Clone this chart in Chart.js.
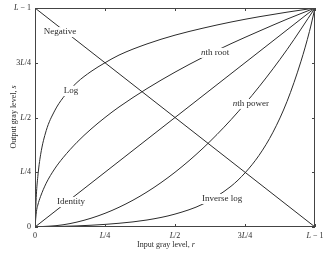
<!DOCTYPE html>
<html>
<head>
<title>Intensity transformation functions</title>
<script src="https://cdn.jsdelivr.net/npm/chart.js"></script>
<style>
  body { margin: 0; background: #fff; }
</style>
</head>
<body>

<canvas id="myChart" width="329" height="254"></canvas>

<script>
  // Input levels r (as a fraction of L - 1) and the output levels
  const rValues      = [0, 0.005, 0.01, 0.02, 0.04, 0.07, 0.1, 0.15, 0.2, 0.25, 0.3, 0.4, 0.5, 0.6, 0.7, 0.8, 0.9, 1];
  const logValues    = [0, 0.15, 0.23, 0.33, 0.44, 0.53, 0.59, 0.66, 0.71, 0.75, 0.785, 0.836, 0.876, 0.908, 0.936, 0.96, 0.981, 1];
  const rootValues   = [0, 0.07, 0.1, 0.14, 0.2, 0.265, 0.316, 0.387, 0.447, 0.5, 0.548, 0.632, 0.707, 0.775, 0.837, 0.894, 0.949, 1];

  const powerR       = [0, 0.1, 0.2, 0.3, 0.4, 0.5, 0.6, 0.7, 0.8, 0.9, 1];
  const powerValues  = [0, 0.01, 0.04, 0.09, 0.16, 0.25, 0.36, 0.49, 0.64, 0.81, 1];

  const invLogR      = [0, 0.1, 0.2, 0.3, 0.4, 0.5, 0.6, 0.7, 0.75, 0.8, 0.85, 0.9, 0.95, 0.98, 1];
  const invLogValues = [0, 0.003, 0.008, 0.017, 0.032, 0.059, 0.105, 0.186, 0.247, 0.327, 0.433, 0.573, 0.757, 0.892, 1];

  const lineR        = [0, 1];
  const identityVals = [0, 1];
  const negativeVals = [1, 0];

  const tickValues = [0, 0.25, 0.5, 0.75, 1];
  const tickLabels = ['0', '_L_/4', '_L_/2', '3_L_/4', '_L_ \u2212 1'];

  // curve names, placed on the curves (r, s)
  const curveLabels = [
    { text: 'Negative', r: 0.089, s: 0.89 },
    { text: 'Log', r: 0.129, s: 0.621 },
    { text: '_n_th root', r: 0.643, s: 0.795 },
    { text: '_n_th power', r: 0.771, s: 0.562 },
    { text: 'Identity', r: 0.129, s: 0.114 },
    { text: 'Inverse log', r: 0.668, s: 0.128 }
  ];

  const ink = '#2b2b2b';
  const fontFamily = '"Liberation Serif", "DejaVu Serif", serif';

  function pairs(xs, ys) {
    return xs.map((x, i) => ({ x: x, y: ys[i] }));
  }

  // text with _italic_ parts
  function richWidth(ctx, text, size) {
    let w = 0;
    text.split('_').forEach((part, i) => {
      ctx.font = (i % 2 ? 'italic ' : '') + size + 'px ' + fontFamily;
      w += ctx.measureText(part).width;
    });
    return w;
  }
  function drawRich(ctx, text, x, y, size, align) {
    const w = richWidth(ctx, text, size);
    let cx = align === 'right' ? x - w : align === 'center' ? x - w / 2 : x;
    ctx.textBaseline = 'middle';
    ctx.textAlign = 'left';
    text.split('_').forEach((part, i) => {
      ctx.font = (i % 2 ? 'italic ' : '') + size + 'px ' + fontFamily;
      ctx.fillText(part, cx, y);
      cx += ctx.measureText(part).width;
    });
  }

  const decorations = {
    id: 'decorations',
    afterDatasetsDraw(chart) {
      const { ctx, chartArea: a, scales: { x, y } } = chart;
      ctx.save();
      ctx.fillStyle = ink;
      curveLabels.forEach(l => {
        const px = x.getPixelForValue(l.r);
        const py = y.getPixelForValue(l.s);
        const w = richWidth(ctx, l.text, 9);
        ctx.fillStyle = '#fff';
        ctx.fillRect(px - w / 2 - 1, py - 5, w + 2, 10);
        ctx.fillStyle = ink;
        drawRich(ctx, l.text, px, py, 9, 'center');
      });

      // frame with inward ticks
      ctx.strokeStyle = '#444';
      ctx.lineWidth = 1;
      ctx.strokeRect(a.left + 0.5, a.top + 0.5, a.right - a.left - 1, a.bottom - a.top - 1);
      ctx.beginPath();
      tickValues.forEach(v => {
        const px = Math.round(x.getPixelForValue(v)) + 0.5;
        const py = Math.round(y.getPixelForValue(v)) + 0.5;
        ctx.moveTo(px, a.bottom); ctx.lineTo(px, a.bottom - 3);
        ctx.moveTo(px, a.top); ctx.lineTo(px, a.top + 3);
        ctx.moveTo(a.left, py); ctx.lineTo(a.left + 3, py);
        ctx.moveTo(a.right, py); ctx.lineTo(a.right - 3, py);
      });
      ctx.stroke();

      // tick labels
      ctx.fillStyle = ink;
      tickValues.forEach((v, i) => {
        drawRich(ctx, tickLabels[i], x.getPixelForValue(v), a.bottom + 9, 8, 'center');
        drawRich(ctx, tickLabels[i], a.left - 4, y.getPixelForValue(v), 8, 'right');
      });

      // axis titles
      drawRich(ctx, 'Input gray level, _r_', 166, 245, 8, 'center');
      ctx.translate(14, 117);
      ctx.rotate(-Math.PI / 2);
      drawRich(ctx, 'Output gray level, _s_', 0, 0, 8, 'center');
      ctx.restore();
    }
  };

  const lineStyle = {
    borderColor: ink,
    borderWidth: 1,
    pointRadius: 0,
    fill: false
  };

  const ctx = document.getElementById('myChart').getContext('2d');
  const myChart = new Chart(ctx, {
    type: 'line',
    data: {
      datasets: [
        { label: 'Negative', data: pairs(lineR, negativeVals), ...lineStyle, tension: 0 },
        { label: 'Identity', data: pairs(lineR, identityVals), ...lineStyle, tension: 0 },
        { label: 'Log', data: pairs(rValues, logValues), ...lineStyle, cubicInterpolationMode: 'monotone' },
        { label: 'nth root', data: pairs(rValues, rootValues), ...lineStyle, cubicInterpolationMode: 'monotone' },
        { label: 'nth power', data: pairs(powerR, powerValues), ...lineStyle, cubicInterpolationMode: 'monotone' },
        { label: 'Inverse log', data: pairs(invLogR, invLogValues), ...lineStyle, cubicInterpolationMode: 'monotone' }
      ]
    },
    options: {
      responsive: false,
      animation: false,
      layout: { padding: { top: 8, right: 14, left: 0, bottom: 0 } },
      plugins: { legend: { display: false }, tooltip: { enabled: false } },
      scales: {
        x: {
          type: 'linear', min: 0, max: 1,
          grid: { display: false },
          border: { display: false },
          ticks: { display: false },
          afterFit: s => { s.height = 27; }
        },
        y: {
          type: 'linear', min: 0, max: 1,
          grid: { display: false },
          border: { display: false },
          ticks: { display: false },
          afterFit: s => { s.width = 35; }
        }
      }
    },
    plugins: [decorations]
  });
</script>

</body>
</html>
